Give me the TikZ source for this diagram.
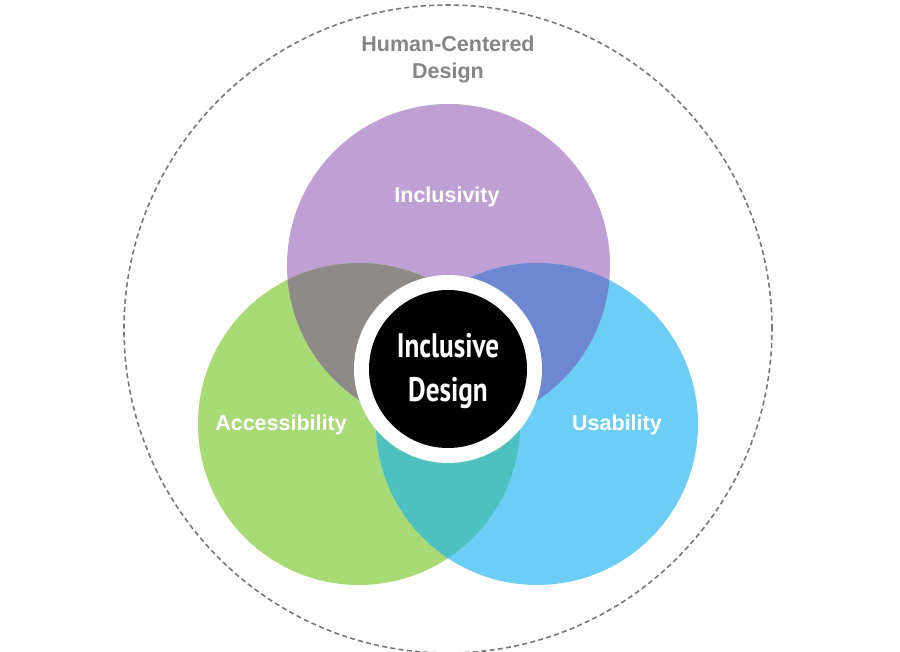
\documentclass[tikz,border=0pt]{standalone}
\usepackage{fontspec}
\setmainfont{Liberation Sans}
\newfontfamily\corefont{PT Sans}
\usetikzlibrary{positioning}
\definecolor{inclcol}{HTML}{BF9FD4}
\definecolor{acccol}{HTML}{A8DA76}
\definecolor{usacol}{HTML}{6DCEF5}
\definecolor{inclacc}{HTML}{8D8A88}
\definecolor{inclusa}{HTML}{6E87D1}
\definecolor{accusa}{HTML}{4EC0C0}
\definecolor{ringgray}{HTML}{777777}
\tikzset{
  hcd ring/.style={draw=ringgray,line width=1.6pt,dash pattern=on 5pt off 3.3pt},
  venn label/.style={text=white,font=\bfseries\fontsize{21.5}{25}\selectfont},
  hcd label/.style={text=ringgray!90,align=center,font=\bfseries\fontsize{21.5}{27}\selectfont},
  core label/.style={text=white,align=center,font=\corefont\bfseries\fontsize{34}{44}\selectfont}
}

\begin{document}
\begin{tikzpicture}[x=1pt,y=1pt]
\useasboundingbox (0,0) rectangle (900,651);
\coordinate (HC) at (448,322);
\coordinate (I) at (448.5,385.5);
\coordinate (A) at (359,227);
\coordinate (U) at (537,227);
\coordinate (C) at (448,282);

\draw[hcd ring] (HC) circle[radius=324pt];

% the three sets
\fill[inclcol] (I) circle[radius=161.5pt];
\fill[acccol] (A) circle[radius=161pt];
\fill[usacol] (U) circle[radius=161pt];

% overlaps
\begin{scope}
  \clip (I) circle[radius=161.5pt];
  \fill[inclacc] (A) circle[radius=161pt];
  \fill[inclusa] (U) circle[radius=161pt];
\end{scope}
\begin{scope}
  \clip (A) circle[radius=161pt];
  \fill[accusa] (U) circle[radius=161pt];
\end{scope}

\fill[white] (C) circle[radius=94pt];
\fill[black] (C) circle[radius=79pt];

\node[core label] (core) at (448,280) {\scalebox{0.8}[1]{Inclusive}\\\scalebox{0.8}[1]{Design}};
\node[hcd label] (hcd) at (448,592) {Human-Centered\\Design};
\node[venn label] (incl) at (447,454) {Inclusivity};
\node[venn label] (acc) at (281,226) {Accessibility};
\node[venn label] (usa) at (617,226) {Usability};
\end{tikzpicture}
\end{document}
